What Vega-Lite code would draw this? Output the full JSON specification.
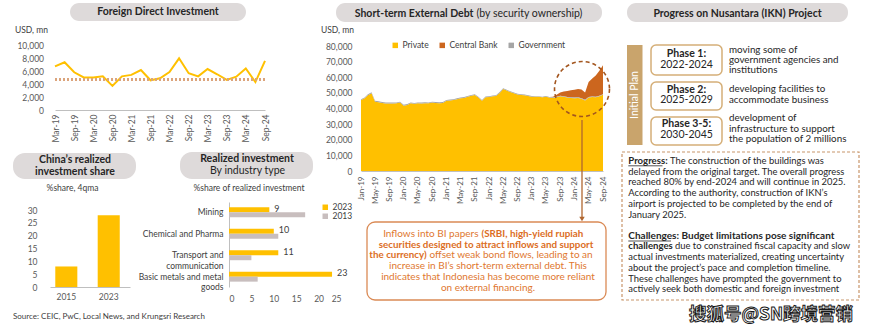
{
"$schema": "https://vega.github.io/schema/vega-lite/v6.json",
"width": 870, "height": 333,
"autosize": {"type": "none"},
"padding": 0,
"background": "#ffffff",
"config": {
  "view": {"stroke": null},
  "font": "Lato",
  "axis": {"labelFont": "Lato", "labelColor": "#595959", "labelFontSize": 8.5, "grid": false, "ticks": false, "domainColor": "#BFBFBF", "labelOverlap": false},
  "legend": {"labelFont": "Lato", "labelColor": "#404040", "labelFontSize": 8.5, "symbolType": "square", "symbolSize": 30, "symbolStrokeWidth": 0, "padding": 0},
  "text": {"font": "Lato"}
},
"datasets": {
  "fdi": [
    {"date": "2019-03-01", "fdi": 6700}, {"date": "2019-06-01", "fdi": 7350}, {"date": "2019-09-01", "fdi": 5800}, {"date": "2019-12-01", "fdi": 5000},
    {"date": "2020-03-01", "fdi": 5000}, {"date": "2020-06-01", "fdi": 5180}, {"date": "2020-09-01", "fdi": 3700}, {"date": "2020-12-01", "fdi": 5180},
    {"date": "2021-03-01", "fdi": 5400}, {"date": "2021-06-01", "fdi": 6150}, {"date": "2021-09-01", "fdi": 4570}, {"date": "2021-12-01", "fdi": 4870},
    {"date": "2022-03-01", "fdi": 5850}, {"date": "2022-06-01", "fdi": 7950}, {"date": "2022-09-01", "fdi": 5650}, {"date": "2022-12-01", "fdi": 5180},
    {"date": "2023-03-01", "fdi": 6300}, {"date": "2023-06-01", "fdi": 5500}, {"date": "2023-09-01", "fdi": 4620}, {"date": "2023-12-01", "fdi": 5130},
    {"date": "2024-03-01", "fdi": 6400}, {"date": "2024-06-01", "fdi": 4300}, {"date": "2024-09-01", "fdi": 7550}
  ],
  "china": [{"year": "2015", "share": 8}, {"year": "2023", "share": 28}],
  "realized": [
    {"ind": "Mining", "year": "2023", "v": 9}, {"ind": "Mining", "year": "2013", "v": 17},
    {"ind": "Chemical and Pharma", "year": "2023", "v": 10}, {"ind": "Chemical and Pharma", "year": "2013", "v": 11},
    {"ind": "Transport and communication", "year": "2023", "v": 11}, {"ind": "Transport and communication", "year": "2013", "v": 5},
    {"ind": "Basic metals and metal goods", "year": "2023", "v": 23}, {"ind": "Basic metals and metal goods", "year": "2013", "v": 6.4}
  ],
  "debt": [
    {"m": "2019-01-01", "Private": 45400, "Central Bank": 0, "Government": 600},
    {"m": "2019-02-01", "Private": 46500, "Central Bank": 0, "Government": 600},
    {"m": "2019-03-01", "Private": 48500, "Central Bank": 0, "Government": 600},
    {"m": "2019-04-01", "Private": 49800, "Central Bank": 0, "Government": 600},
    {"m": "2019-05-01", "Private": 44300, "Central Bank": 0, "Government": 600},
    {"m": "2019-06-01", "Private": 44000, "Central Bank": 0, "Government": 600},
    {"m": "2019-07-01", "Private": 43500, "Central Bank": 0, "Government": 600},
    {"m": "2019-08-01", "Private": 43200, "Central Bank": 0, "Government": 600},
    {"m": "2019-09-01", "Private": 43200, "Central Bank": 0, "Government": 600},
    {"m": "2019-10-01", "Private": 43200, "Central Bank": 0, "Government": 600},
    {"m": "2019-11-01", "Private": 43300, "Central Bank": 0, "Government": 600},
    {"m": "2019-12-01", "Private": 43800, "Central Bank": 0, "Government": 600},
    {"m": "2020-01-01", "Private": 41800, "Central Bank": 0, "Government": 600},
    {"m": "2020-02-01", "Private": 42300, "Central Bank": 0, "Government": 600},
    {"m": "2020-03-01", "Private": 43300, "Central Bank": 0, "Government": 600},
    {"m": "2020-04-01", "Private": 43000, "Central Bank": 0, "Government": 600},
    {"m": "2020-05-01", "Private": 43300, "Central Bank": 0, "Government": 600},
    {"m": "2020-06-01", "Private": 43200, "Central Bank": 0, "Government": 600},
    {"m": "2020-07-01", "Private": 43400, "Central Bank": 0, "Government": 600},
    {"m": "2020-08-01", "Private": 43300, "Central Bank": 0, "Government": 600},
    {"m": "2020-09-01", "Private": 43800, "Central Bank": 0, "Government": 600},
    {"m": "2020-10-01", "Private": 43500, "Central Bank": 0, "Government": 600},
    {"m": "2020-11-01", "Private": 43400, "Central Bank": 0, "Government": 600},
    {"m": "2020-12-01", "Private": 43600, "Central Bank": 0, "Government": 600},
    {"m": "2021-01-01", "Private": 45000, "Central Bank": 0, "Government": 500},
    {"m": "2021-02-01", "Private": 45200, "Central Bank": 0, "Government": 500},
    {"m": "2021-03-01", "Private": 45500, "Central Bank": 0, "Government": 500},
    {"m": "2021-04-01", "Private": 46000, "Central Bank": 0, "Government": 500},
    {"m": "2021-05-01", "Private": 46500, "Central Bank": 0, "Government": 500},
    {"m": "2021-06-01", "Private": 46800, "Central Bank": 0, "Government": 500},
    {"m": "2021-07-01", "Private": 47500, "Central Bank": 0, "Government": 500},
    {"m": "2021-08-01", "Private": 48200, "Central Bank": 0, "Government": 500},
    {"m": "2021-09-01", "Private": 48600, "Central Bank": 0, "Government": 500},
    {"m": "2021-10-01", "Private": 47000, "Central Bank": 0, "Government": 500},
    {"m": "2021-11-01", "Private": 45000, "Central Bank": 0, "Government": 500},
    {"m": "2021-12-01", "Private": 47200, "Central Bank": 0, "Government": 500},
    {"m": "2022-01-01", "Private": 47400, "Central Bank": 0, "Government": 500},
    {"m": "2022-02-01", "Private": 47800, "Central Bank": 0, "Government": 500},
    {"m": "2022-03-01", "Private": 48000, "Central Bank": 0, "Government": 500},
    {"m": "2022-04-01", "Private": 50000, "Central Bank": 0, "Government": 500},
    {"m": "2022-05-01", "Private": 52500, "Central Bank": 0, "Government": 500},
    {"m": "2022-06-01", "Private": 51500, "Central Bank": 0, "Government": 500},
    {"m": "2022-07-01", "Private": 50500, "Central Bank": 0, "Government": 500},
    {"m": "2022-08-01", "Private": 49700, "Central Bank": 0, "Government": 500},
    {"m": "2022-09-01", "Private": 49000, "Central Bank": 0, "Government": 500},
    {"m": "2022-10-01", "Private": 48600, "Central Bank": 0, "Government": 500},
    {"m": "2022-11-01", "Private": 48500, "Central Bank": 0, "Government": 500},
    {"m": "2022-12-01", "Private": 48000, "Central Bank": 0, "Government": 500},
    {"m": "2023-01-01", "Private": 47600, "Central Bank": 0, "Government": 400},
    {"m": "2023-02-01", "Private": 47500, "Central Bank": 0, "Government": 400},
    {"m": "2023-03-01", "Private": 47500, "Central Bank": 0, "Government": 400},
    {"m": "2023-04-01", "Private": 47200, "Central Bank": 0, "Government": 400},
    {"m": "2023-05-01", "Private": 47600, "Central Bank": 0, "Government": 400},
    {"m": "2023-06-01", "Private": 47000, "Central Bank": 0, "Government": 400},
    {"m": "2023-07-01", "Private": 46800, "Central Bank": 300, "Government": 400},
    {"m": "2023-08-01", "Private": 47200, "Central Bank": 1200, "Government": 400},
    {"m": "2023-09-01", "Private": 47800, "Central Bank": 2000, "Government": 400},
    {"m": "2023-10-01", "Private": 47500, "Central Bank": 3000, "Government": 400},
    {"m": "2023-11-01", "Private": 47000, "Central Bank": 3800, "Government": 400},
    {"m": "2023-12-01", "Private": 46800, "Central Bank": 4500, "Government": 400},
    {"m": "2024-01-01", "Private": 46600, "Central Bank": 5000, "Government": 400},
    {"m": "2024-02-01", "Private": 46800, "Central Bank": 5300, "Government": 400},
    {"m": "2024-03-01", "Private": 46200, "Central Bank": 5600, "Government": 400},
    {"m": "2024-04-01", "Private": 45200, "Central Bank": 4600, "Government": 400},
    {"m": "2024-05-01", "Private": 47000, "Central Bank": 9500, "Government": 400},
    {"m": "2024-06-01", "Private": 47300, "Central Bank": 11500, "Government": 400},
    {"m": "2024-07-01", "Private": 47200, "Central Bank": 13500, "Government": 400},
    {"m": "2024-08-01", "Private": 47800, "Central Bank": 16000, "Government": 400},
    {"m": "2024-09-01", "Private": 48800, "Central Bank": 18500, "Government": 400}
  ]
},
"resolve": {
  "scale": {"x": "independent", "y": "independent", "color": "independent"},
  "axis": {"x": "independent", "y": "independent"},
  "legend": {"color": "independent"}
},
"layer": [
  {
    "data": {"name": "fdi"},
    "layer": [
      {
        "mark": {"type": "line", "color": "#FFC000", "strokeWidth": 2},
        "encoding": {
          "x": {"field": "date", "type": "temporal",
            "scale": {"type": "utc", "domain": [{"year": 2019, "month": 3, "date": 1, "utc": true}, {"year": 2024, "month": 9, "date": 1, "utc": true}], "range": [55, 265], "nice": false},
            "axis": {"orient": "bottom", "offset": -223, "title": null, "format": "%b-%y", "labelAngle": -90, "labelPadding": 4, "labelFontSize": 8.5,
              "values": [
                {"year": 2019, "month": 3, "date": 1, "utc": true}, {"year": 2019, "month": 9, "date": 1, "utc": true},
                {"year": 2020, "month": 3, "date": 1, "utc": true}, {"year": 2020, "month": 9, "date": 1, "utc": true},
                {"year": 2021, "month": 3, "date": 1, "utc": true}, {"year": 2021, "month": 9, "date": 1, "utc": true},
                {"year": 2022, "month": 3, "date": 1, "utc": true}, {"year": 2022, "month": 9, "date": 1, "utc": true},
                {"year": 2023, "month": 3, "date": 1, "utc": true}, {"year": 2023, "month": 9, "date": 1, "utc": true},
                {"year": 2024, "month": 3, "date": 1, "utc": true}, {"year": 2024, "month": 9, "date": 1, "utc": true}
              ]}},
          "y": {"field": "fdi", "type": "quantitative",
            "scale": {"domain": [0, 10000], "range": [110, 45], "nice": false},
            "axis": {"orient": "left", "offset": -46.5, "title": null, "values": [0, 2000, 4000, 6000, 8000, 10000], "format": ",.0f", "domain": false, "labelPadding": 3}}
        }
      },
      {
        "mark": {"type": "rule", "color": "#D9A47C", "strokeDash": [2, 2], "strokeWidth": 1.5},
        "encoding": {
          "x": {"datum": {"year": 2019, "month": 3, "date": 1, "utc": true}, "type": "temporal",
            "scale": {"type": "utc", "domain": [{"year": 2019, "month": 3, "date": 1, "utc": true}, {"year": 2024, "month": 9, "date": 1, "utc": true}], "range": [55, 265], "nice": false},
            "axis": {"orient": "bottom", "offset": -223, "title": null, "format": "%b-%y", "labelAngle": -90, "labelPadding": 4, "labelFontSize": 8.5,
              "values": [
                {"year": 2019, "month": 3, "date": 1, "utc": true}, {"year": 2019, "month": 9, "date": 1, "utc": true},
                {"year": 2020, "month": 3, "date": 1, "utc": true}, {"year": 2020, "month": 9, "date": 1, "utc": true},
                {"year": 2021, "month": 3, "date": 1, "utc": true}, {"year": 2021, "month": 9, "date": 1, "utc": true},
                {"year": 2022, "month": 3, "date": 1, "utc": true}, {"year": 2022, "month": 9, "date": 1, "utc": true},
                {"year": 2023, "month": 3, "date": 1, "utc": true}, {"year": 2023, "month": 9, "date": 1, "utc": true},
                {"year": 2024, "month": 3, "date": 1, "utc": true}, {"year": 2024, "month": 9, "date": 1, "utc": true}
              ]}},
          "x2": {"datum": {"year": 2024, "month": 9, "date": 1, "utc": true}},
          "y": {"datum": 4700, "type": "quantitative",
            "scale": {"domain": [0, 10000], "range": [110, 45], "nice": false},
            "axis": {"orient": "left", "offset": -46.5, "title": null, "values": [0, 2000, 4000, 6000, 8000, 10000], "format": ",.0f", "domain": false, "labelPadding": 3}}
        }
      }
    ]
  },
  {
    "data": {"name": "china"},
    "mark": {"type": "bar", "color": "#FFC000"},
    "encoding": {
      "x": {"field": "year", "type": "ordinal",
        "scale": {"range": [50, 130], "paddingInner": 0.48, "paddingOuter": 0.183, "align": 0.34},
        "axis": {"orient": "bottom", "offset": -46, "title": null, "labelAngle": 0, "labelPadding": 5}},
      "y": {"field": "share", "type": "quantitative",
        "scale": {"domain": [0, 30], "range": [287, 210], "nice": false},
        "axis": {"orient": "left", "offset": -40, "title": null, "values": [0, 5, 10, 15, 20, 25, 30], "domain": false, "labelPadding": 3}}
    }
  },
  {
    "data": {"name": "realized"},
    "encoding": {
      "x": {"field": "v", "type": "quantitative",
        "scale": {"domain": [0, 25], "range": [229, 341], "nice": false},
        "axis": {"orient": "bottom", "offset": -43, "title": null, "values": [0, 5, 10, 15, 20, 25], "domain": false, "labelPadding": 4}},
      "y": {"field": "ind", "type": "nominal",
        "sort": ["Mining", "Chemical and Pharma", "Transport and communication", "Basic metals and metal goods"],
        "scale": {"range": [202, 287], "paddingInner": 0.533, "paddingOuter": 0.25},
        "axis": {"orient": "left", "offset": -229, "title": null, "labelPadding": 6, "labelColor": "#404040", "labelLineHeight": 10.5,
          "labelExpr": "datum.label == 'Transport and communication' ? ['Transport and', 'communication'] : datum.label == 'Basic metals and metal goods' ? ['Basic metals and metal', 'goods'] : datum.label"}},
      "yOffset": {"field": "year", "type": "nominal", "sort": ["2023", "2013"]}
    },
    "layer": [
      {
        "mark": {"type": "bar"},
        "encoding": {
          "color": {"field": "year", "type": "nominal",
            "scale": {"domain": ["2023", "2013"], "range": ["#FFC000", "#C8BEBE"]},
            "legend": {"orient": "none", "legendX": 321, "legendY": 203, "title": null, "direction": "vertical", "rowPadding": 0, "labelOffset": 3}}
        }
      },
      {
        "transform": [{"filter": "datum.year == '2023'"}],
        "mark": {"type": "text", "align": "left", "baseline": "middle", "dx": 5, "dy": -1, "fontSize": 9, "color": "#404040"},
        "encoding": {"text": {"field": "v", "type": "quantitative"}}
      }
    ]
  },
  {
    "data": {"name": "debt"},
    "transform": [{"fold": ["Private", "Central Bank", "Government"], "as": ["series", "value"]}],
    "mark": {"type": "area"},
    "encoding": {
      "x": {"field": "m", "type": "temporal",
        "scale": {"type": "utc", "domain": [{"year": 2019, "month": 1, "date": 1, "utc": true}, {"year": 2024, "month": 9, "date": 1, "utc": true}], "range": [361, 603], "nice": false},
        "axis": {"orient": "bottom", "offset": -162, "title": null, "format": "%b-%y", "labelAngle": -90, "labelPadding": 5, "labelFontSize": 8,
          "values": [
            {"year": 2019, "month": 1, "date": 1, "utc": true}, {"year": 2019, "month": 5, "date": 1, "utc": true}, {"year": 2019, "month": 9, "date": 1, "utc": true},
            {"year": 2020, "month": 1, "date": 1, "utc": true}, {"year": 2020, "month": 5, "date": 1, "utc": true}, {"year": 2020, "month": 9, "date": 1, "utc": true},
            {"year": 2021, "month": 1, "date": 1, "utc": true}, {"year": 2021, "month": 5, "date": 1, "utc": true}, {"year": 2021, "month": 9, "date": 1, "utc": true},
            {"year": 2022, "month": 1, "date": 1, "utc": true}, {"year": 2022, "month": 5, "date": 1, "utc": true}, {"year": 2022, "month": 9, "date": 1, "utc": true},
            {"year": 2023, "month": 1, "date": 1, "utc": true}, {"year": 2023, "month": 5, "date": 1, "utc": true}, {"year": 2023, "month": 9, "date": 1, "utc": true},
            {"year": 2024, "month": 1, "date": 1, "utc": true}, {"year": 2024, "month": 5, "date": 1, "utc": true}, {"year": 2024, "month": 9, "date": 1, "utc": true}
          ]}},
      "y": {"field": "value", "type": "quantitative", "stack": "zero",
        "scale": {"domain": [0, 80000], "range": [171, 46], "nice": false},
        "axis": {"orient": "left", "offset": -355, "title": null, "values": [0, 10000, 20000, 30000, 40000, 50000, 60000, 70000, 80000], "format": ",.0f", "domain": false, "labelPadding": 3}},
      "color": {"field": "series", "type": "nominal",
        "scale": {"domain": ["Private", "Central Bank", "Government"], "range": ["#FFC000", "#CC661E", "#A5A5A5"]},
        "legend": {"orient": "none", "legendX": 391, "legendY": 41, "direction": "horizontal", "title": null, "columnPadding": 9, "labelOffset": 3}},
      "order": {"field": "series", "sort": "descending"}
    }
  },
  {
    "data": {"values": [{}]},
    "layer": [
      {"mark": {"type": "rect", "fill": "#DEDADA", "cornerRadius": 9},
       "encoding": {"x": {"datum": 70, "type": "quantitative", "scale": {"domain": [0, 870], "range": [0, 870], "nice": false}, "axis": null}, "x2": {"datum": 246},
                    "y": {"datum": 3, "type": "quantitative", "scale": {"domain": [0, 333], "range": [0, 333], "nice": false}, "axis": null}, "y2": {"datum": 21}}},
      {"mark": {"type": "rect", "fill": "#DEDADA", "cornerRadius": 9},
       "encoding": {"x": {"datum": 336, "type": "quantitative", "scale": {"domain": [0, 870], "range": [0, 870], "nice": false}, "axis": null}, "x2": {"datum": 602},
                    "y": {"datum": 3, "type": "quantitative", "scale": {"domain": [0, 333], "range": [0, 333], "nice": false}, "axis": null}, "y2": {"datum": 22}}},
      {"mark": {"type": "rect", "fill": "#DEDADA", "cornerRadius": 9},
       "encoding": {"x": {"datum": 627, "type": "quantitative", "scale": {"domain": [0, 870], "range": [0, 870], "nice": false}, "axis": null}, "x2": {"datum": 848},
                    "y": {"datum": 3, "type": "quantitative", "scale": {"domain": [0, 333], "range": [0, 333], "nice": false}, "axis": null}, "y2": {"datum": 22}}},
      {"mark": {"type": "rect", "fill": "#DEDADA", "cornerRadius": 12},
       "encoding": {"x": {"datum": 13, "type": "quantitative", "scale": {"domain": [0, 870], "range": [0, 870], "nice": false}, "axis": null}, "x2": {"datum": 136},
                    "y": {"datum": 153, "type": "quantitative", "scale": {"domain": [0, 333], "range": [0, 333], "nice": false}, "axis": null}, "y2": {"datum": 179}}},
      {"mark": {"type": "rect", "fill": "#DEDADA", "cornerRadius": 12},
       "encoding": {"x": {"datum": 180, "type": "quantitative", "scale": {"domain": [0, 870], "range": [0, 870], "nice": false}, "axis": null}, "x2": {"datum": 313},
                    "y": {"datum": 152, "type": "quantitative", "scale": {"domain": [0, 333], "range": [0, 333], "nice": false}, "axis": null}, "y2": {"datum": 179}}},
      {"mark": {"type": "rect", "fill": "#ffffff", "stroke": "#DA8A55", "strokeWidth": 1.3, "cornerRadius": 8},
       "encoding": {"x": {"datum": 367, "type": "quantitative", "scale": {"domain": [0, 870], "range": [0, 870], "nice": false}, "axis": null}, "x2": {"datum": 606},
                    "y": {"datum": 222, "type": "quantitative", "scale": {"domain": [0, 333], "range": [0, 333], "nice": false}, "axis": null}, "y2": {"datum": 300}}},
      {"mark": {"type": "rule", "color": "#B0662F", "strokeWidth": 1.3},
       "encoding": {"x": {"datum": 582, "type": "quantitative", "scale": {"domain": [0, 870], "range": [0, 870], "nice": false}, "axis": null},
                    "y": {"datum": 120, "type": "quantitative", "scale": {"domain": [0, 333], "range": [0, 333], "nice": false}, "axis": null}, "y2": {"datum": 218}}},
      {"mark": {"type": "point", "shape": "triangle-down", "filled": true, "color": "#B0662F", "size": 30, "opacity": 1},
       "encoding": {"x": {"datum": 582, "type": "quantitative", "scale": {"domain": [0, 870], "range": [0, 870], "nice": false}, "axis": null},
                    "y": {"datum": 219, "type": "quantitative", "scale": {"domain": [0, 333], "range": [0, 333], "nice": false}, "axis": null}}},
      {"mark": {"type": "point", "shape": "circle", "filled": false, "stroke": "#A3561F", "strokeWidth": 1.6, "strokeDash": [4, 3], "size": 3020, "opacity": 1},
       "encoding": {"x": {"datum": 582, "type": "quantitative", "scale": {"domain": [0, 870], "range": [0, 870], "nice": false}, "axis": null},
                    "y": {"datum": 89, "type": "quantitative", "scale": {"domain": [0, 333], "range": [0, 333], "nice": false}, "axis": null}}},
      {"mark": {"type": "rect", "fill": "#C9A46C"},
       "encoding": {"x": {"datum": 627, "type": "quantitative", "scale": {"domain": [0, 870], "range": [0, 870], "nice": false}, "axis": null}, "x2": {"datum": 642.5},
                    "y": {"datum": 45, "type": "quantitative", "scale": {"domain": [0, 333], "range": [0, 333], "nice": false}, "axis": null}, "y2": {"datum": 145}}},
      {"mark": {"type": "rect", "fill": "#ffffff", "stroke": "#D5AF78", "strokeWidth": 1.5, "cornerRadius": 5},
       "encoding": {"x": {"datum": 651, "type": "quantitative", "scale": {"domain": [0, 870], "range": [0, 870], "nice": false}, "axis": null}, "x2": {"datum": 722},
                    "y": {"datum": 45, "type": "quantitative", "scale": {"domain": [0, 333], "range": [0, 333], "nice": false}, "axis": null}, "y2": {"datum": 75}}},
      {"mark": {"type": "rect", "fill": "#ffffff", "stroke": "#D5AF78", "strokeWidth": 1.5, "cornerRadius": 5},
       "encoding": {"x": {"datum": 651, "type": "quantitative", "scale": {"domain": [0, 870], "range": [0, 870], "nice": false}, "axis": null}, "x2": {"datum": 722},
                    "y": {"datum": 82, "type": "quantitative", "scale": {"domain": [0, 333], "range": [0, 333], "nice": false}, "axis": null}, "y2": {"datum": 110}}},
      {"mark": {"type": "rect", "fill": "#ffffff", "stroke": "#D5AF78", "strokeWidth": 1.5, "cornerRadius": 5},
       "encoding": {"x": {"datum": 651, "type": "quantitative", "scale": {"domain": [0, 870], "range": [0, 870], "nice": false}, "axis": null}, "x2": {"datum": 722},
                    "y": {"datum": 117, "type": "quantitative", "scale": {"domain": [0, 333], "range": [0, 333], "nice": false}, "axis": null}, "y2": {"datum": 145}}},
      {"mark": {"type": "rect", "fill": null, "fillOpacity": 0, "stroke": "#C8956A", "strokeWidth": 1.2, "strokeDash": [3, 2]},
       "encoding": {"x": {"datum": 622, "type": "quantitative", "scale": {"domain": [0, 870], "range": [0, 870], "nice": false}, "axis": null}, "x2": {"datum": 859},
                    "y": {"datum": 152, "type": "quantitative", "scale": {"domain": [0, 333], "range": [0, 333], "nice": false}, "axis": null}, "y2": {"datum": 300}}},

      {"mark": {"type": "text", "fontSize": 10.5, "fontWeight": "bold", "color": "#262626", "align": "center", "baseline": "middle"},
       "encoding": {"x": {"datum": 158, "type": "quantitative", "scale": {"domain": [0, 870], "range": [0, 870], "nice": false}, "axis": null},
                    "y": {"datum": 12.3, "type": "quantitative", "scale": {"domain": [0, 333], "range": [0, 333], "nice": false}, "axis": null},
                    "text": {"value": "Foreign Direct Investment"}}},
      {"mark": {"type": "text", "fontSize": 8.5, "color": "#404040", "align": "left", "baseline": "middle"},
       "encoding": {"x": {"datum": 15, "type": "quantitative", "scale": {"domain": [0, 870], "range": [0, 870], "nice": false}, "axis": null},
                    "y": {"datum": 30, "type": "quantitative", "scale": {"domain": [0, 333], "range": [0, 333], "nice": false}, "axis": null},
                    "text": {"value": "USD, mn"}}},
      {"mark": {"type": "text", "fontSize": 10.5, "fontWeight": "bold", "color": "#262626", "align": "right", "baseline": "middle"},
       "encoding": {"x": {"datum": 473.5, "type": "quantitative", "scale": {"domain": [0, 870], "range": [0, 870], "nice": false}, "axis": null},
                    "y": {"datum": 13.5, "type": "quantitative", "scale": {"domain": [0, 333], "range": [0, 333], "nice": false}, "axis": null},
                    "text": {"value": "Short-term External Debt"}}},
      {"mark": {"type": "text", "fontSize": 10.5, "color": "#262626", "align": "left", "baseline": "middle"},
       "encoding": {"x": {"datum": 476.5, "type": "quantitative", "scale": {"domain": [0, 870], "range": [0, 870], "nice": false}, "axis": null},
                    "y": {"datum": 13.5, "type": "quantitative", "scale": {"domain": [0, 333], "range": [0, 333], "nice": false}, "axis": null},
                    "text": {"value": "(by security ownership)"}}},
      {"mark": {"type": "text", "fontSize": 8.5, "color": "#404040", "align": "left", "baseline": "middle"},
       "encoding": {"x": {"datum": 321, "type": "quantitative", "scale": {"domain": [0, 870], "range": [0, 870], "nice": false}, "axis": null},
                    "y": {"datum": 30, "type": "quantitative", "scale": {"domain": [0, 333], "range": [0, 333], "nice": false}, "axis": null},
                    "text": {"value": "USD, mn"}}},
      {"mark": {"type": "text", "fontSize": 10.5, "fontWeight": "bold", "color": "#262626", "align": "center", "baseline": "middle"},
       "encoding": {"x": {"datum": 737.5, "type": "quantitative", "scale": {"domain": [0, 870], "range": [0, 870], "nice": false}, "axis": null},
                    "y": {"datum": 13.5, "type": "quantitative", "scale": {"domain": [0, 333], "range": [0, 333], "nice": false}, "axis": null},
                    "text": {"value": "Progress on Nusantara (IKN) Project"}}},
      {"mark": {"type": "text", "fontSize": 10.5, "fontWeight": "bold", "color": "#262626", "align": "center", "baseline": "middle", "lineBreak": "\n", "lineHeight": 11.7},
       "encoding": {"x": {"datum": 75, "type": "quantitative", "scale": {"domain": [0, 870], "range": [0, 870], "nice": false}, "axis": null},
                    "y": {"datum": 160, "type": "quantitative", "scale": {"domain": [0, 333], "range": [0, 333], "nice": false}, "axis": null},
                    "text": {"value": "China’s realized\ninvestment share"}}},
      {"mark": {"type": "text", "fontSize": 8.5, "color": "#404040", "align": "center", "baseline": "middle"},
       "encoding": {"x": {"datum": 72.5, "type": "quantitative", "scale": {"domain": [0, 870], "range": [0, 870], "nice": false}, "axis": null},
                    "y": {"datum": 188.3, "type": "quantitative", "scale": {"domain": [0, 333], "range": [0, 333], "nice": false}, "axis": null},
                    "text": {"value": "%share, 4qma"}}},
      {"mark": {"type": "text", "fontSize": 10.5, "fontWeight": "bold", "color": "#262626", "align": "center", "baseline": "middle"},
       "encoding": {"x": {"datum": 247, "type": "quantitative", "scale": {"domain": [0, 870], "range": [0, 870], "nice": false}, "axis": null},
                    "y": {"datum": 158.5, "type": "quantitative", "scale": {"domain": [0, 333], "range": [0, 333], "nice": false}, "axis": null},
                    "text": {"value": "Realized investment"}}},
      {"mark": {"type": "text", "fontSize": 10.5, "color": "#262626", "align": "center", "baseline": "middle"},
       "encoding": {"x": {"datum": 247.5, "type": "quantitative", "scale": {"domain": [0, 870], "range": [0, 870], "nice": false}, "axis": null},
                    "y": {"datum": 170.7, "type": "quantitative", "scale": {"domain": [0, 333], "range": [0, 333], "nice": false}, "axis": null},
                    "text": {"value": "By industry type"}}},
      {"mark": {"type": "text", "fontSize": 8.5, "color": "#404040", "align": "center", "baseline": "middle"},
       "encoding": {"x": {"datum": 249, "type": "quantitative", "scale": {"domain": [0, 870], "range": [0, 870], "nice": false}, "axis": null},
                    "y": {"datum": 187.7, "type": "quantitative", "scale": {"domain": [0, 333], "range": [0, 333], "nice": false}, "axis": null},
                    "text": {"value": "%share of realized investment"}}},
      {"mark": {"type": "text", "fontSize": 8, "color": "#404040", "align": "left", "baseline": "middle"},
       "encoding": {"x": {"datum": 13, "type": "quantitative", "scale": {"domain": [0, 870], "range": [0, 870], "nice": false}, "axis": null},
                    "y": {"datum": 316.5, "type": "quantitative", "scale": {"domain": [0, 333], "range": [0, 333], "nice": false}, "axis": null},
                    "text": {"value": "Source: CEIC, PwC, Local News, and Krungsri Research"}}},

      {"mark": {"type": "text", "fontSize": 10, "color": "#E07830", "align": "right", "baseline": "middle"},
       "encoding": {"x": {"datum": 478.5, "type": "quantitative", "scale": {"domain": [0, 870], "range": [0, 870], "nice": false}, "axis": null},
                    "y": {"datum": 234, "type": "quantitative", "scale": {"domain": [0, 333], "range": [0, 333], "nice": false}, "axis": null},
                    "text": {"value": "Inflows into BI papers"}}},
      {"mark": {"type": "text", "fontSize": 9.8, "fontWeight": "bold", "color": "#DC6E25", "align": "left", "baseline": "middle"},
       "encoding": {"x": {"datum": 481.5, "type": "quantitative", "scale": {"domain": [0, 870], "range": [0, 870], "nice": false}, "axis": null},
                    "y": {"datum": 234, "type": "quantitative", "scale": {"domain": [0, 333], "range": [0, 333], "nice": false}, "axis": null},
                    "text": {"value": "(SRBI, high-yield rupiah"}}},
      {"mark": {"type": "text", "fontSize": 9.8, "fontWeight": "bold", "color": "#DC6E25", "align": "center", "baseline": "middle"},
       "encoding": {"x": {"datum": 486, "type": "quantitative", "scale": {"domain": [0, 870], "range": [0, 870], "nice": false}, "axis": null},
                    "y": {"datum": 244.5, "type": "quantitative", "scale": {"domain": [0, 333], "range": [0, 333], "nice": false}, "axis": null},
                    "text": {"value": "securities designed to attract inflows and support"}}},
      {"mark": {"type": "text", "fontSize": 9.8, "fontWeight": "bold", "color": "#DC6E25", "align": "right", "baseline": "middle"},
       "encoding": {"x": {"datum": 426.7, "type": "quantitative", "scale": {"domain": [0, 870], "range": [0, 870], "nice": false}, "axis": null},
                    "y": {"datum": 255, "type": "quantitative", "scale": {"domain": [0, 333], "range": [0, 333], "nice": false}, "axis": null},
                    "text": {"value": "the currency)"}}},
      {"mark": {"type": "text", "fontSize": 10, "color": "#E07830", "align": "left", "baseline": "middle"},
       "encoding": {"x": {"datum": 429.5, "type": "quantitative", "scale": {"domain": [0, 870], "range": [0, 870], "nice": false}, "axis": null},
                    "y": {"datum": 255, "type": "quantitative", "scale": {"domain": [0, 333], "range": [0, 333], "nice": false}, "axis": null},
                    "text": {"value": "offset weak bond flows, leading to an"}}},
      {"mark": {"type": "text", "fontSize": 10, "color": "#E07830", "align": "center", "baseline": "middle", "lineBreak": "\n", "lineHeight": 10.8},
       "encoding": {"x": {"datum": 488, "type": "quantitative", "scale": {"domain": [0, 870], "range": [0, 870], "nice": false}, "axis": null},
                    "y": {"datum": 266, "type": "quantitative", "scale": {"domain": [0, 333], "range": [0, 333], "nice": false}, "axis": null},
                    "text": {"value": "increase in BI’s short-term external debt. This\nindicates that Indonesia has become more reliant\non external financing."}}},

      {"mark": {"type": "text", "fontSize": 10.5, "color": "#ffffff", "align": "center", "baseline": "middle", "angle": 270},
       "encoding": {"x": {"datum": 635, "type": "quantitative", "scale": {"domain": [0, 870], "range": [0, 870], "nice": false}, "axis": null},
                    "y": {"datum": 95, "type": "quantitative", "scale": {"domain": [0, 333], "range": [0, 333], "nice": false}, "axis": null},
                    "text": {"value": "Initial Plan"}}},
      {"mark": {"type": "text", "fontSize": 10.5, "fontWeight": "bold", "color": "#262626", "align": "center", "baseline": "middle"},
       "encoding": {"x": {"datum": 686.5, "type": "quantitative", "scale": {"domain": [0, 870], "range": [0, 870], "nice": false}, "axis": null},
                    "y": {"datum": 53.5, "type": "quantitative", "scale": {"domain": [0, 333], "range": [0, 333], "nice": false}, "axis": null},
                    "text": {"value": "Phase 1:"}}},
      {"mark": {"type": "text", "fontSize": 10.5, "fontWeight": "bold", "color": "#262626", "align": "center", "baseline": "middle"},
       "encoding": {"x": {"datum": 686.5, "type": "quantitative", "scale": {"domain": [0, 870], "range": [0, 870], "nice": false}, "axis": null},
                    "y": {"datum": 89.5, "type": "quantitative", "scale": {"domain": [0, 333], "range": [0, 333], "nice": false}, "axis": null},
                    "text": {"value": "Phase 2:"}}},
      {"mark": {"type": "text", "fontSize": 10.5, "fontWeight": "bold", "color": "#262626", "align": "center", "baseline": "middle"},
       "encoding": {"x": {"datum": 686.5, "type": "quantitative", "scale": {"domain": [0, 870], "range": [0, 870], "nice": false}, "axis": null},
                    "y": {"datum": 124, "type": "quantitative", "scale": {"domain": [0, 333], "range": [0, 333], "nice": false}, "axis": null},
                    "text": {"value": "Phase 3-5:"}}},
      {"mark": {"type": "text", "fontSize": 10.5, "color": "#262626", "align": "center", "baseline": "middle"},
       "encoding": {"x": {"datum": 686.5, "type": "quantitative", "scale": {"domain": [0, 870], "range": [0, 870], "nice": false}, "axis": null},
                    "y": {"datum": 65, "type": "quantitative", "scale": {"domain": [0, 333], "range": [0, 333], "nice": false}, "axis": null},
                    "text": {"value": "2022-2024"}}},
      {"mark": {"type": "text", "fontSize": 10.5, "color": "#262626", "align": "center", "baseline": "middle"},
       "encoding": {"x": {"datum": 686.5, "type": "quantitative", "scale": {"domain": [0, 870], "range": [0, 870], "nice": false}, "axis": null},
                    "y": {"datum": 100, "type": "quantitative", "scale": {"domain": [0, 333], "range": [0, 333], "nice": false}, "axis": null},
                    "text": {"value": "2025-2029"}}},
      {"mark": {"type": "text", "fontSize": 10.5, "color": "#262626", "align": "center", "baseline": "middle"},
       "encoding": {"x": {"datum": 686.5, "type": "quantitative", "scale": {"domain": [0, 870], "range": [0, 870], "nice": false}, "axis": null},
                    "y": {"datum": 135, "type": "quantitative", "scale": {"domain": [0, 333], "range": [0, 333], "nice": false}, "axis": null},
                    "text": {"value": "2030-2045"}}},
      {"mark": {"type": "text", "fontSize": 9.8, "color": "#262626", "align": "left", "baseline": "middle", "lineBreak": "\n", "lineHeight": 10.4},
       "encoding": {"x": {"datum": 729, "type": "quantitative", "scale": {"domain": [0, 870], "range": [0, 870], "nice": false}, "axis": null},
                    "y": {"datum": 49.5, "type": "quantitative", "scale": {"domain": [0, 333], "range": [0, 333], "nice": false}, "axis": null},
                    "text": {"value": "moving some of\ngovernment agencies and\ninstitutions"}}},
      {"mark": {"type": "text", "fontSize": 9.8, "color": "#262626", "align": "left", "baseline": "middle", "lineBreak": "\n", "lineHeight": 10.7},
       "encoding": {"x": {"datum": 729, "type": "quantitative", "scale": {"domain": [0, 870], "range": [0, 870], "nice": false}, "axis": null},
                    "y": {"datum": 89.3, "type": "quantitative", "scale": {"domain": [0, 333], "range": [0, 333], "nice": false}, "axis": null},
                    "text": {"value": "developing facilities to\naccommodate business"}}},
      {"mark": {"type": "text", "fontSize": 9.8, "color": "#262626", "align": "left", "baseline": "middle", "lineBreak": "\n", "lineHeight": 10.5},
       "encoding": {"x": {"datum": 729, "type": "quantitative", "scale": {"domain": [0, 870], "range": [0, 870], "nice": false}, "axis": null},
                    "y": {"datum": 118.3, "type": "quantitative", "scale": {"domain": [0, 333], "range": [0, 333], "nice": false}, "axis": null},
                    "text": {"value": "development of\ninfrastructure to support\nthe population of 2 millions"}}},

      {"mark": {"type": "text", "fontSize": 9.6, "fontWeight": "bold", "color": "#262626", "align": "left", "baseline": "middle"},
       "encoding": {"x": {"datum": 628.3, "type": "quantitative", "scale": {"domain": [0, 870], "range": [0, 870], "nice": false}, "axis": null},
                    "y": {"datum": 160.7, "type": "quantitative", "scale": {"domain": [0, 333], "range": [0, 333], "nice": false}, "axis": null},
                    "text": {"value": "Progress:"}}},
      {"mark": {"type": "rule", "color": "#262626", "strokeWidth": 0.8},
       "encoding": {"x": {"datum": 628.3, "type": "quantitative", "scale": {"domain": [0, 870], "range": [0, 870], "nice": false}, "axis": null}, "x2": {"datum": 662.5},
                    "y": {"datum": 165.8, "type": "quantitative", "scale": {"domain": [0, 333], "range": [0, 333], "nice": false}, "axis": null}}},
      {"mark": {"type": "text", "fontSize": 9.4, "color": "#262626", "align": "left", "baseline": "middle"},
       "encoding": {"x": {"datum": 670, "type": "quantitative", "scale": {"domain": [0, 870], "range": [0, 870], "nice": false}, "axis": null},
                    "y": {"datum": 160.7, "type": "quantitative", "scale": {"domain": [0, 333], "range": [0, 333], "nice": false}, "axis": null},
                    "text": {"value": "The construction of the buildings was"}}},
      {"mark": {"type": "text", "fontSize": 9.4, "color": "#262626", "align": "left", "baseline": "middle", "lineBreak": "\n", "lineHeight": 10.85},
       "encoding": {"x": {"datum": 628.3, "type": "quantitative", "scale": {"domain": [0, 870], "range": [0, 870], "nice": false}, "axis": null},
                    "y": {"datum": 171.5, "type": "quantitative", "scale": {"domain": [0, 333], "range": [0, 333], "nice": false}, "axis": null},
                    "text": {"value": "delayed from the original target. The overall progress\nreached 80% by end-2024 and will continue in 2025.\nAccording to the authority, construction of IKN’s\nairport is projected to be completed by the end of\nJanuary 2025."}}},
      {"mark": {"type": "text", "fontSize": 10, "fontWeight": "bold", "color": "#262626", "align": "left", "baseline": "middle"},
       "encoding": {"x": {"datum": 628.3, "type": "quantitative", "scale": {"domain": [0, 870], "range": [0, 870], "nice": false}, "axis": null},
                    "y": {"datum": 235.7, "type": "quantitative", "scale": {"domain": [0, 333], "range": [0, 333], "nice": false}, "axis": null},
                    "text": {"value": "Challenges: Budget limitations pose significant"}}},
      {"mark": {"type": "rule", "color": "#262626", "strokeWidth": 0.8},
       "encoding": {"x": {"datum": 628.3, "type": "quantitative", "scale": {"domain": [0, 870], "range": [0, 870], "nice": false}, "axis": null}, "x2": {"datum": 671},
                    "y": {"datum": 241, "type": "quantitative", "scale": {"domain": [0, 333], "range": [0, 333], "nice": false}, "axis": null}}},
      {"mark": {"type": "text", "fontSize": 9.6, "fontWeight": "bold", "color": "#262626", "align": "left", "baseline": "middle"},
       "encoding": {"x": {"datum": 628.3, "type": "quantitative", "scale": {"domain": [0, 870], "range": [0, 870], "nice": false}, "axis": null},
                    "y": {"datum": 246.4, "type": "quantitative", "scale": {"domain": [0, 333], "range": [0, 333], "nice": false}, "axis": null},
                    "text": {"value": "challenges"}}},
      {"mark": {"type": "text", "fontSize": 9.4, "color": "#262626", "align": "left", "baseline": "middle"},
       "encoding": {"x": {"datum": 675, "type": "quantitative", "scale": {"domain": [0, 870], "range": [0, 870], "nice": false}, "axis": null},
                    "y": {"datum": 246.4, "type": "quantitative", "scale": {"domain": [0, 333], "range": [0, 333], "nice": false}, "axis": null},
                    "text": {"value": "due to constrained fiscal capacity and slow"}}},
      {"mark": {"type": "text", "fontSize": 9.4, "color": "#262626", "align": "left", "baseline": "middle", "lineBreak": "\n", "lineHeight": 10.72},
       "encoding": {"x": {"datum": 628.3, "type": "quantitative", "scale": {"domain": [0, 870], "range": [0, 870], "nice": false}, "axis": null},
                    "y": {"datum": 257.1, "type": "quantitative", "scale": {"domain": [0, 333], "range": [0, 333], "nice": false}, "axis": null},
                    "text": {"value": "actual investments materialized, creating uncertainty\nabout the project’s pace and completion timeline.\nThese challenges have prompted the government to\nactively seek both domestic and foreign investment"}}},
      {"mark": {"type": "text", "font": "Noto Sans CJK SC", "fontSize": 17.5, "fontWeight": "bold", "fill": "#ffffff", "stroke": "#1a1a1a", "strokeWidth": 1, "align": "center", "baseline": "middle"},
       "encoding": {"x": {"datum": 771, "type": "quantitative", "scale": {"domain": [0, 870], "range": [0, 870], "nice": false}, "axis": null},
                    "y": {"datum": 314.5, "type": "quantitative", "scale": {"domain": [0, 333], "range": [0, 333], "nice": false}, "axis": null},
                    "text": {"value": "搜狐号@SN跨境营销"}}}
    ]
  }
]
}
